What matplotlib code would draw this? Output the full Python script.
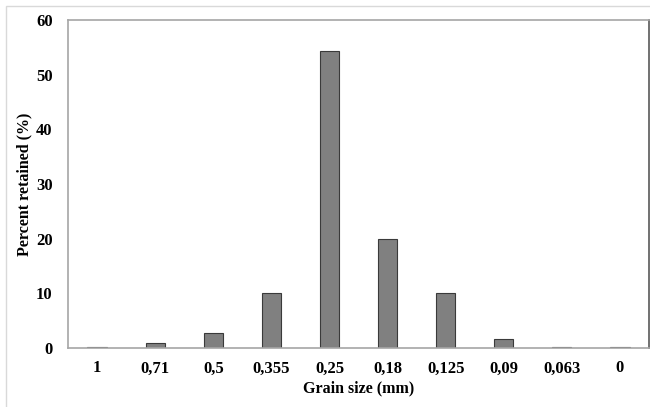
import matplotlib.pyplot as plt
from matplotlib.patches import Rectangle

sizes = ["1", "0,71", "0,5", "0,355", "0,25", "0,18", "0,125", "0,09", "0,063", "0"]
retained = [0.1, 1.0, 2.7, 10.0, 54.4, 19.9, 10.0, 1.6, 0.2, 0.1]

plt.rcParams['font.family'] = ['Liberation Serif', 'DejaVu Serif']
plt.rcParams['font.weight'] = 'bold'

fig = plt.figure(figsize=(6.5, 4.07), dpi=100)
ax = fig.add_axes([68 / 650, 1 - 348 / 407, 581 / 650, 328 / 407])

# light frame around the chart area
fig.patches.append(Rectangle((6 / 650, -0.1), 1.2, 1 - 6 / 407 + 0.1,
                             transform=fig.transFigure, fill=False,
                             edgecolor='#d9d9d9', linewidth=1.0))

x = range(len(sizes))
ax.bar(x, retained, width=0.33, color='#808080', edgecolor='#3a3a3a', linewidth=0.8)

ax.set_xlim(-0.5, len(sizes) - 0.5)
ax.set_ylim(0, 60)
ax.set_yticks(range(0, 61, 10))
ax.set_xticks(list(x))
ax.set_xticklabels(sizes)
ax.tick_params(length=0, labelsize=12)
ax.tick_params(axis='x', pad=9)
ax.tick_params(axis='y', pad=11)
for lab in ax.get_xticklabels() + ax.get_yticklabels():
    lab.set_fontweight('bold')

for side in ['left', 'bottom', 'top']:
    ax.spines[side].set_color('#a6a6a6')
    ax.spines[side].set_linewidth(1.2)
ax.spines['right'].set_color('#595959')
ax.spines['right'].set_linewidth(1.2)

ax.set_xlabel('Grain size (mm)', fontsize=11.5, fontweight='bold', labelpad=3)
ax.set_ylabel('Percent retained (%)', fontsize=11.5, fontweight='bold', labelpad=3)

fig.savefig('out.png', dpi=100)
